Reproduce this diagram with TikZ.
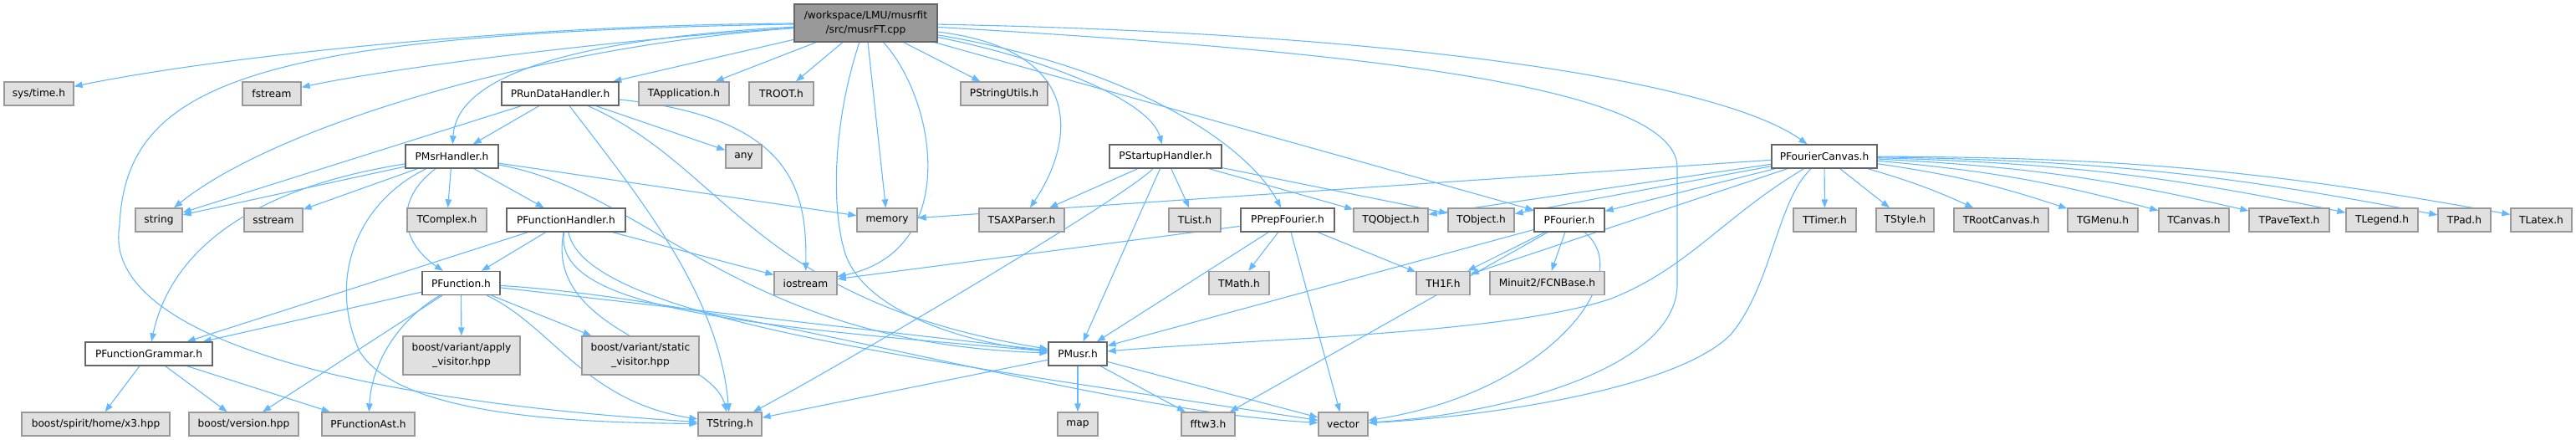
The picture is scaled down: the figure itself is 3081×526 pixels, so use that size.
\documentclass[tikz,border=0pt]{standalone}
\usepackage{fontspec}
\setmainfont{DejaVu Sans}
\usetikzlibrary{arrows.meta}
\definecolor{edgec}{HTML}{63B8FF}
\definecolor{extfill}{HTML}{E0E0E0}
\definecolor{extdraw}{HTML}{999999}
\definecolor{locdraw}{HTML}{666666}
\definecolor{rootfill}{HTML}{999999}
\pgfdeclarelayer{bg}
\pgfsetlayers{bg,main}
\tikzset{
  box/.style={rectangle, inner sep=0pt, minimum height=28pt, line width=1.3pt,
    font=\fontsize{12.2}{16.5}\selectfont, align=center, text=black},
  ext/.style={box, fill=extfill, draw=extdraw},
  loc/.style={box, fill=white, draw=locdraw},
  rootbox/.style={box, fill=rootfill, draw=locdraw, minimum height=45pt},
  ext2/.style={ext, minimum height=46pt},
  edge/.style={draw=edgec, line width=1.1pt, -{Triangle[length=10pt,width=7.5pt]}, fill=none}
}
\begin{document}
\begin{tikzpicture}[x=1pt,y=-1pt]
\useasboundingbox (0,0) rectangle (3081,526);
% rank 0
\node[rootbox, minimum width=171pt] (top) at (1035.5,27.5) {/workspace/LMU/musrfit\\/src/musrFT.cpp};
% rank 1
\node[ext, minimum width=83pt] (systime) at (46.5,112) {sys/time.h};
\node[ext, minimum width=70pt] (fstream) at (325,112) {fstream};
\node[loc, minimum width=140pt] (prdh) at (670,112) {PRunDataHandler.h};
\node[ext, minimum width=108pt] (tapp) at (818,112) {TApplication.h};
\node[ext, minimum width=77pt] (troot) at (934.5,112) {TROOT.h};
\node[ext, minimum width=104pt] (pstr) at (1201,112) {PStringUtils.h};
% rank 2
\node[loc, minimum width=111pt] (pmh) at (540.5,187) {PMsrHandler.h};
\node[ext, minimum width=43pt] (any) at (889.5,187) {any};
\node[loc, minimum width=134pt] (psh) at (1394,187) {PStartupHandler.h};
\node[loc, minimum width=126pt] (pfc) at (2182,187) {PFourierCanvas.h};
% rank 3
\node[ext, minimum width=56pt] (string) at (190,263) {string};
\node[ext, minimum width=70pt] (sstream) at (327,263) {sstream};
\node[ext, minimum width=95pt] (tcomplex) at (534.5,263) {TComplex.h};
\node[loc, minimum width=142pt] (pfh) at (677,263) {PFunctionHandler.h};
\node[ext, minimum width=72pt] (memory) at (1061,263) {memory};
\node[ext, minimum width=102pt] (tsax) at (1222,263) {TSAXParser.h};
\node[ext, minimum width=62pt] (tlist) at (1429,263) {TList.h};
\node[loc, minimum width=112pt] (ppf) at (1540,263) {PPrepFourier.h};
\node[ext, minimum width=89pt] (tqobj) at (1663.5,263) {TQObject.h};
\node[ext, minimum width=79pt] (tobj) at (1771.5,263) {TObject.h};
\node[loc, minimum width=84pt] (pfr) at (1877,263) {PFourier.h};
\node[ext, minimum width=75pt] (ttimer) at (2182.5,263) {TTimer.h};
\node[ext, minimum width=69pt] (tstyle) at (2278.5,263) {TStyle.h};
\node[ext, minimum width=113pt] (trootc) at (2393.5,263) {TRootCanvas.h};
\node[ext, minimum width=84pt] (tgmenu) at (2515,263) {TGMenu.h};
\node[ext, minimum width=84pt] (tcanvas) at (2624,263) {TCanvas.h};
\node[ext, minimum width=96pt] (tpave) at (2738,263) {TPaveText.h};
\node[ext, minimum width=86pt] (tlegend) at (2849,263) {TLegend.h};
\node[ext, minimum width=63pt] (tpad) at (2947.5,263) {TPad.h};
\node[ext, minimum width=73pt] (tlatex) at (3039.5,263) {TLatex.h};
% rank 4
\node[loc, minimum width=93pt] (pf) at (551.5,338.5) {PFunction.h};
\node[ext, minimum width=75pt] (iostream) at (963.5,338.5) {iostream};
\node[ext, minimum width=72pt] (tmath) at (1482,338.5) {TMath.h};
\node[ext, minimum width=64pt] (th1f) at (1726,338.5) {TH1F.h};
\node[ext, minimum width=137pt] (minuit) at (1850.5,338.5) {Minuit2/FCNBase.h};
% rank 5
\node[loc, minimum width=152pt] (pfg) at (178,423) {PFunctionGrammar.h};
\node[ext2, minimum width=140pt] (apply) at (552,425) {boost/variant/apply\\\_visitor.hpp};
\node[ext2, minimum width=140pt] (static) at (766,425) {boost/variant/static\\\_visitor.hpp};
\node[loc, minimum width=70pt] (pmusr) at (1289,423) {PMusr.h};
% rank 6
\node[ext, minimum width=177pt] (spirit) at (114.5,507) {boost/spirit/home/x3.hpp};
\node[ext, minimum width=131pt] (version) at (291.5,507) {boost/version.hpp};
\node[ext, minimum width=111pt] (pfast) at (440.5,507) {PFunctionAst.h};
\node[ext, minimum width=76pt] (tstring) at (873,507) {TString.h};
\node[ext, minimum width=48pt] (map) at (1289,507) {map};
\node[ext, minimum width=64pt] (fftw) at (1445,507) {fftw3.h};
\node[ext, minimum width=59pt] (vector) at (1606.5,507) {vector};

\begin{pgfonlayer}{bg}
% from musrFT.cpp
\draw[edge] (top) .. controls (600,30) and (250,70) .. (systime);
\draw[edge] (top) .. controls (700,50) and (450,85) .. (fstream);
\draw[edge] (top) -- (prdh);
\draw[edge] (top) -- (tapp);
\draw[edge] (top) -- (troot);
\draw[edge] (top) -- (pstr);
\draw[edge] (top) .. controls (620,50) and (545,110) .. (pmh);
\draw[edge] (top) .. controls (650,55) and (330,150) .. (string);
\draw[edge] (top) .. controls (300,40) and (150,100) .. (143,270) .. controls (125,370) and (300,470) .. (tstring);
\draw[edge] (top) -- (memory);
\draw[edge] (top) .. controls (1120,120) and (1150,300) .. (iostream);
\draw[edge] (top) .. controls (995,150) and (995,250) .. (1010,300) .. controls (1030,370) and (1150,410) .. (pmusr);
\draw[edge] (top) .. controls (1300,60) and (1285,170) .. (tsax);
\draw[edge] (top) .. controls (1250,70) and (1375,120) .. (psh);
\draw[edge] (top) .. controls (1350,80) and (1490,170) .. (ppf);
\draw[edge] (top) -- (pfr);
\draw[edge] (top) .. controls (1700,40) and (2060,100) .. (pfc);
\draw[edge] (top) .. controls (1600,60) and (2006,100) .. (2006,200) -- (2006,340) .. controls (2006,440) and (1800,495) .. (vector);
% PRunDataHandler.h
\draw[edge] (prdh) -- (string);
\draw[edge] (prdh) -- (pmh);
\draw[edge] (prdh) .. controls (760,230) and (860,350) .. (tstring);
\draw[edge] (prdh) -- (any);
\draw[edge] (prdh) .. controls (950,140) and (965,230) .. (iostream);
\draw[edge] (prdh) .. controls (870,200) and (900,360) .. (pmusr);
% PMsrHandler.h
\draw[edge] (pmh) -- (string);
\draw[edge] (pmh) -- (sstream);
\draw[edge] (pmh) -- (tcomplex);
\draw[edge] (pmh) -- (pfh);
\draw[edge] (pmh) .. controls (470,240) and (480,290) .. (pf);
\draw[edge] (pmh) .. controls (270,230) and (200,320) .. (pfg);
\draw[edge] (pmh) .. controls (430,240) and (390,330) .. (430,420) .. controls (480,500) and (700,505) .. (tstring);
\draw[edge] (pmh) -- (memory);
\draw[edge] (pmh) .. controls (780,230) and (880,410) .. (pmusr);
% PFunctionHandler.h
\draw[edge] (pfh) -- (pfg);
\draw[edge] (pfh) -- (pf);
\draw[edge] (pfh) .. controls (650,400) and (850,420) .. (tstring);
\draw[edge] (pfh) .. controls (660,370) and (900,390) .. (pmusr);
\draw[edge] (pfh) .. controls (700,380) and (1100,430) .. (vector);
\draw[edge] (pfh) -- (iostream);
% PFunction.h
\draw[edge] (pf) -- (pfg);
\draw[edge] (pf) -- (version);
\draw[edge] (pf) .. controls (480,380) and (445,430) .. (pfast);
\draw[edge] (pf) -- (apply);
\draw[edge] (pf) -- (static);
\draw[edge] (pf) .. controls (660,390) and (700,480) .. (tstring);
\draw[edge] (pf) -- (pmusr);
\draw[edge] (pf) .. controls (900,360) and (1300,490) .. (vector);
% PFunctionGrammar.h
\draw[edge] (pfg) -- (spirit);
\draw[edge] (pfg) -- (version);
\draw[edge] (pfg) -- (pfast);
% PStartupHandler.h
\draw[edge] (psh) -- (tsax);
\draw[edge] (psh) -- (tqobj);
\draw[edge] (psh) -- (tobj);
\draw[edge] (psh) -- (tlist);
\draw[edge] (psh) .. controls (1340,240) and (1000,440) .. (tstring);
\draw[edge] (psh) -- (pmusr);
% PPrepFourier.h
\draw[edge] (ppf) -- (iostream);
\draw[edge] (ppf) -- (pmusr);
\draw[edge] (ppf) -- (tmath);
\draw[edge] (ppf) -- (vector);
\draw[edge] (ppf) -- (th1f);
% PFourier.h
\draw[edge] (pfr) -- (th1f);
\draw[edge] (pfr) -- (minuit);
\draw[edge] (pfr) -- (pmusr);
\draw[edge] (pfr) -- (fftw);
\draw[edge] (pfr) .. controls (1960,330) and (1850,470) .. (vector);
% PFourierCanvas.h
\draw[edge] (pfc) -- (memory);
\draw[edge] (pfc) -- (tqobj);
\draw[edge] (pfc) -- (tobj);
\draw[edge] (pfc) -- (pfr);
\draw[edge] (pfc) -- (ttimer);
\draw[edge] (pfc) -- (tstyle);
\draw[edge] (pfc) to[bend left=4] (trootc);
\draw[edge] (pfc) to[bend left=5] (tgmenu);
\draw[edge] (pfc) to[bend left=5] (tcanvas);
\draw[edge] (pfc) to[bend left=5] (tpave);
\draw[edge] (pfc) to[bend left=5] (tlegend);
\draw[edge] (pfc) to[bend left=5] (tpad);
\draw[edge] (pfc) to[bend left=5] (tlatex);
\draw[edge] (pfc) -- (th1f);
\draw[edge] (pfc) .. controls (2060,260) and (2020,320) .. (1927,357) .. controls (1800,400) and (1500,405) .. (pmusr);
\draw[edge] (pfc) .. controls (2125,240) and (2120,340) .. (2070,400) .. controls (2000,470) and (1750,500) .. (vector);
% PMusr.h
\draw[edge] (pmusr) -- (tstring);
\draw[edge] (pmusr) -- (map);
\draw[edge] (pmusr) -- (fftw);
\draw[edge] (pmusr) -- (vector);
\end{pgfonlayer}
\end{tikzpicture}
\end{document}
